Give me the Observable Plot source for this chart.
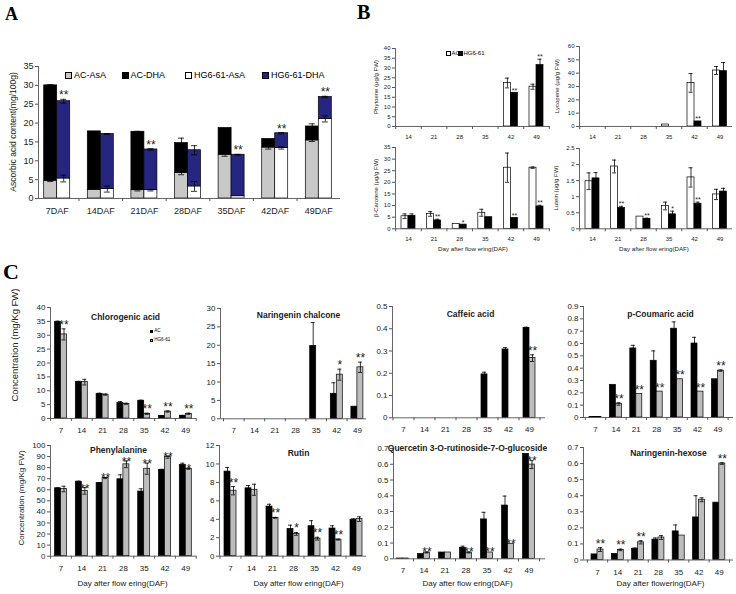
<!DOCTYPE html>
<html><head><meta charset="utf-8">
<script src="https://cdn.jsdelivr.net/npm/d3@7"></script>
<script src="https://cdn.jsdelivr.net/npm/@observablehq/plot@0.6"></script>
<style>
body{margin:0;background:#fff;}
#fig{position:relative;width:736px;height:594px;overflow:hidden;background:#fff;font-family:"Liberation Sans",Arial,sans-serif;color:#000;}
#fig > *{position:absolute;}
.plabel{font-family:"Liberation Serif","Times New Roman",serif;font-weight:bold;line-height:1;}
.leg{display:flex;align-items:center;white-space:nowrap;line-height:1;}
.sw{display:inline-block;border:0.8px solid #000;box-sizing:border-box;}
.vlab{white-space:nowrap;line-height:1;transform:translate(-50%,-50%) rotate(-90deg);color:#222;}
</style></head><body><div id="fig"></div>
<script>
// ---------- Panel A data ----------
const daysA = ["7DAF","14DAF","21DAF","28DAF","35DAF","42DAF","49DAF"];
const acAsA    = [4.7, 2.3, 2.2, 6.8, 11.6, 13.5, 15.4];
const acAsAErr = [0.2, 0, 0.2, 0.5, 0.4, 0.4, 0.3];
const acDHA    = [25.3, 15.5, 15.5, 7.9, 7.1, 2.3, 3.7];
const acTotErr = [0.2, 0, 0.1, 1.3, 0, 0, 0.7];
const hgAsA    = [5.3, 2.5, 2.2, 3.2, 0.6, 13.4, 21.1];
const hgAsAErr = [0.9, 0.8, 0.2, 1.3, 0, 0.3, 0.8];
const hgDHA    = [20.5, 14.6, 10.8, 9.6, 11.0, 3.9, 5.8];
const hgTotErr = [0.5, 0.1, 0.2, 1.2, 0.1, 0.2, 0.2];
const starsA   = ["**","","**","","**","**","**"];

// ---------- Panel B data ----------
const daysB = ["14","21","28","35","42","49"];
const phytoAC = [0,0,0,0,22.3,20.4], phytoACErr = [0,0,0,0,2.5,1.3];
const phytoHG = [0,0,0,0,17.3,31.5], phytoHGErr = [0,0,0,0,0,3];
const phytoStars = ["","","","","**","**"];
const lycoAC = [0,0,0,1.5,32.7,42], lycoACErr = [0,0,0,0,7,3];
const lycoHG = [0,0,0,0,3.8,41.5], lycoHGErr = [0,0,0,0,0,6.5];
const lycoStars = ["","","","","**",""];
const caroAC = [5.4,6.4,2.1,6.9,26.3,26.3], caroACErr = [1,1,0,1.5,6.3,0.3];
const caroHG = [5.6,3.6,1.8,5.0,4.7,9.6], caroHGErr = [0.8,0.5,0,0,0,0.5];
const caroStars = ["","**","*","","**","**"];
const lutAC = [1.48,1.94,0.38,0.71,1.6,1.07], lutACErr = [0.26,0.2,0,0.12,0.3,0.16];
const lutHG = [1.57,0.65,0.31,0.45,0.78,1.16], lutHGErr = [0.18,0.05,0.02,0.1,0.05,0.1];
const lutStars = ["","**","**","*","**",""];

// ---------- Panel C data ----------
const daysC = ["7","14","21","28","35","42","49"];
const chloroAC = [34.8,13.1,8.9,5.6,6.4,0.9,1.0], chloroACErr = [0.3,0.3,0.2,0.5,0.2,0.1,0.1];
const chloroHG = [30.3,13.1,8.6,5.3,1.7,2.5,1.7], chloroHGErr = [2.0,1.0,0.2,0.2,0.2,0.2,0.2];
const chloroStars = ["**","","","","**","**","**"];
const narchAC = [0,0,0,0,19.8,6.8,3.3], narchACErr = [0,0,0,0,6.4,3.0,0];
const narchHG = [0,0,0,0,0,12.0,14.0], narchHGErr = [0,0,0,0,0,1.5,1.4];
const narchStars = ["","","","","","*","**"];
const cafAC = [0,0,0,0,0.195,0.307,0.404], cafACErr = [0,0,0,0,0.01,0.008,0.003];
const cafHG = [0,0,0,0,0,0,0.268], cafHGErr = [0,0,0,0,0,0,0.015];
const cafStars = ["","","","","","","**"];
const coumAC = [0.005,0.265,0.56,0.46,0.72,0.60,0.31], coumACErr = [0,0,0.025,0.08,0.055,0.05,0];
const coumHG = [0.005,0.11,0.19,0.21,0.31,0.21,0.38], coumHGErr = [0,0.01,0,0,0,0,0.005];
const coumStars = ["","**","**","**","**","**","**"];
const pheAC = [61.3,67.3,66,69.5,58.4,78,82.5], pheACErr = [0.5,0.5,0.5,4,2.5,0.5,1.5];
const pheHG = [60.7,59,70.6,83,79,89.5,79], pheHGErr = [2.5,3,0.5,3,5,1,0.5];
const pheStars = ["","**","**","**","**","**","*"];
const rutAC = [9.17,7.36,5.38,2.96,3.25,3.0,3.95], rutACErr = [0.45,0.3,0.25,0.4,0.6,0.3,0.1];
const rutHG = [7.1,7.2,4.16,2.42,1.9,1.8,4.02], rutHGErr = [0.45,0.6,0.05,0.15,0.15,0.05,0.25];
const rutStars = ["**","","**","*","**","**",""];
const querAC = [0.002,0.03,0.04,0.07,0.25,0.338,0.666], querACErr = [0,0,0,0.01,0.045,0.06,0];
const querHG = [0.002,0.04,0.04,0.04,0.04,0.095,0.598], querHGErr = [0,0.003,0,0.003,0,0,0.025];
const querStars = ["","**","","**","**","**","**"];
const nhAC = [0.035,0.038,0.07,0.127,0.178,0.265,0.357], nhACErr = [0,0,0.005,0.01,0.04,0.135,0];
const nhHG = [0.065,0.063,0.11,0.14,0.152,0.375,0.6], nhHGErr = [0.012,0.005,0.01,0.012,0,0.012,0.005];
const nhStars = ["**","**","**","","","","**"];

// ---------- drawing ----------
const fig = document.getElementById("fig");
const FONT = '"Liberation Sans", Arial, sans-serif';

function vlabel(text, cx, cy, fs) {
  const d = document.createElement("div");
  d.className = "vlab";
  d.textContent = text;
  d.style.left = cx + "px"; d.style.top = cy + "px"; d.style.fontSize = fs + "px";
  fig.appendChild(d);
}

function addPlot(p) {
  const n = p.cats.length;
  const W = p.rx - p.ax + p.mL + p.mR;
  const H = p.by - p.ty + p.mT + p.mB;
  const xLo = (p.ax - p.c0) / p.step, xHi = (p.rx - p.c0) / p.step;
  const bw = p.barW / p.step, cw = p.capW / p.step / 2;
  const errs = [];
  const starTop = new Array(n).fill(0);
  const seriesRows = p.series.map(s => s.vals.map((v, i) => {
    const base = s.base ? s.base[i] : 0;
    const x1 = s.slot === 0 ? i - bw : i;
    const x2 = x1 + bw;
    const e = s.errs ? s.errs[i] : 0;
    const xc = (x1 + x2) / 2;
    if (e > 0) errs.push({xc, xa: xc - cw, xb: xc + cw, lo: Math.max(0, base + v - e), hi: base + v + e});
    if (s.slot === 1) starTop[i] = Math.max(starTop[i], base + v + e);
    return {x1, x2, y1: base, y2: base + v};
  }));
  const starRows = p.stars.map((t, i) => ({t, x: i + bw / 2, y: starTop[i]})).filter(d => d.t);
  const yTicks = d3.range(0, p.yMax + p.yStep / 2, p.yStep).map(v => +v.toFixed(3));
  const bounds = d3.range(n + 1).map(i => i - 0.5).filter(v => v >= xLo - 1e-6 && v <= xHi + 1e-6);
  const marks = [];
  p.series.forEach((s, k) => marks.push(Plot.rect(seriesRows[k], {x1: "x1", x2: "x2", y1: "y1", y2: "y2", fill: s.fill, stroke: "#000", strokeWidth: 0.7})));
  marks.push(Plot.ruleX(errs, {x: "xc", y1: "lo", y2: "hi", stroke: "#000", strokeWidth: 0.8}));
  marks.push(Plot.ruleY(errs, {y: "hi", x1: "xa", x2: "xb", stroke: "#000", strokeWidth: 0.8}));
  marks.push(Plot.ruleY(errs, {y: "lo", x1: "xa", x2: "xb", stroke: "#000", strokeWidth: 0.8}));
  marks.push(Plot.ruleY([0], {stroke: "#555", strokeWidth: 0.9}));
  marks.push(Plot.ruleX([xLo], {stroke: "#555", strokeWidth: 0.9}));
  marks.push(Plot.axisY({ticks: yTicks, tickSize: 3, tickPadding: 2, tickFormat: d => String(d), label: null, fontSize: p.fs, stroke: "#555"}));
  marks.push(Plot.axisX({ticks: d3.range(n), tickSize: 0, tickPadding: p.xPad, tickFormat: i => p.cats[i], label: null, fontSize: p.fs}));
  marks.push(Plot.axisX({ticks: bounds, tickSize: 3, tickFormat: () => "", label: null, stroke: "#555"}));
  marks.push(Plot.text(starRows, {x: "x", y: "y", text: "t", lineAnchor: "bottom", dy: p.starDy || 0, fontSize: p.starFs}));
  if (p.title) marks.push(Plot.text([p.title], {text: d => d, frameAnchor: "top", dx: p.tDx || 0, dy: p.tDy || 0, fontWeight: "bold", fontSize: p.tFs}));
  if (p.xlabel) marks.push(Plot.text([p.xlabel], {text: d => d, frameAnchor: "bottom", dx: p.xlDx || 0, dy: p.xlDy, fontSize: p.xlFs}));
  const svg = Plot.plot({
    width: W, height: H,
    marginLeft: p.mL, marginRight: p.mR, marginTop: p.mT, marginBottom: p.mB,
    x: {type: "linear", domain: [xLo, xHi]},
    y: {type: "linear", domain: [0, p.yMax]},
    style: {fontFamily: FONT, fontSize: p.fs + "px", color: "#222", background: "transparent", overflow: "visible"},
    marks
  });
  svg.style.position = "absolute";
  svg.style.left = (p.ax - p.mL) + "px";
  svg.style.top = (p.ty - p.mT) + "px";
  svg.style.maxWidth = "none";
  fig.appendChild(svg);
  if (p.ylabel) vlabel(p.ylabel, p.ylX, p.ylY, p.ylFs);
}

// Panel A
addPlot({cats: daysA, ax: 38, rx: 340, ty: 66, by: 198, c0: 56.7, step: 43.6, barW: 13, capW: 6,
  mL: 38, mR: 8, mT: 20, mB: 24, yMax: 35, yStep: 5, fs: 9, xPad: 9.5, starFs: 12,
  series: [
    {slot: 0, vals: acAsA, errs: acAsAErr, fill: "#c8c8c8"},
    {slot: 0, base: acAsA, vals: acDHA, errs: acTotErr, fill: "#000"},
    {slot: 1, vals: hgAsA, errs: hgAsAErr, fill: "#fff"},
    {slot: 1, base: hgAsA, vals: hgDHA, errs: hgTotErr, fill: "#262680"}],
  stars: starsA, ylabel: "Ascorbic acid content(mg/100g)", ylX: 13, ylY: 132, ylFs: 8.5});

// Panel B
const bBase = {cats: daysB, barW: 7, capW: 4, mR: 3, mT: 6, mB: 30, fs: 6, xPad: 7.8, starFs: 7, ylFs: 6, xlFs: 6.2};
function bPanel(o) {
  addPlot(Object.assign({}, bBase, o, {series: [
    {slot: 0, vals: o.ac, errs: o.acE, fill: "#fff"},
    {slot: 1, vals: o.hg, errs: o.hgE, fill: "#000"}]}));
}
bPanel({ax: 395, rx: 550, ty: 48, by: 126, c0: 408, step: 25.6, mL: 28, yMax: 40, yStep: 5,
  ac: phytoAC, acE: phytoACErr, hg: phytoHG, hgE: phytoHGErr, stars: phytoStars,
  ylabel: "Phytoene (μg/g FW)", ylX: 376, ylY: 87});
bPanel({ax: 579, rx: 732, ty: 46, by: 126, c0: 592, step: 25.5, mL: 28, yMax: 60, yStep: 10,
  ac: lycoAC, acE: lycoACErr, hg: lycoHG, hgE: lycoHGErr, stars: lycoStars,
  ylabel: "Lycopene (μg/g FW)", ylX: 557, ylY: 86});
bPanel({ax: 395, rx: 550, ty: 147, by: 228.3, c0: 408, step: 25.6, mL: 28, yMax: 35, yStep: 5,
  ac: caroAC, acE: caroACErr, hg: caroHG, hgE: caroHGErr, stars: caroStars,
  ylabel: "β-Carotene (μg/g FW)", ylX: 376, ylY: 188,
  xlabel: "Day after flow ering(DAF)", xlDy: 22, xlDx: 0});
bPanel({ax: 579, rx: 732, ty: 148, by: 228.3, c0: 592, step: 25.5, mL: 28, yMax: 2.5, yStep: 0.5,
  ac: lutAC, acE: lutACErr, hg: lutHG, hgE: lutHGErr, stars: lutStars,
  ylabel: "Lutein (μg/g FW)", ylX: 556, ylY: 188,
  xlabel: "Day after flow ering(DAF)", xlDy: 22, xlDx: -2});

// Panel C
const cBase = {cats: daysC, barW: 6, capW: 4, mR: 4, mT: 14, fs: 8, xPad: 9, starFs: 12, tFs: 8.5, ylFs: 8, xlFs: 8};
function cPanel(o) {
  addPlot(Object.assign({}, cBase, o, {series: [
    {slot: 0, vals: o.ac, errs: o.acE, fill: "#000"},
    {slot: 1, vals: o.hg, errs: o.hgE, fill: "#bdbdbd"}]}));
}
const concLabel = "Concentration (mg/Kg FW)";
cPanel({ax: 50, rx: 196, ty: 307, by: 418, c0: 60.5, step: 20.8, mL: 50, mB: 20, yMax: 40, yStep: 5,
  ac: chloroAC, acE: chloroACErr, hg: chloroHG, hgE: chloroHGErr, stars: chloroStars,
  title: "Chlorogenic acid", tDx: 2, tDy: 6, ylabel: concLabel, ylX: 15, ylY: 345, ylFs: 9.5});
cPanel({ax: 220, rx: 366, ty: 308, by: 418.3, c0: 233.3, step: 20.6, mL: 30, mB: 20, yMax: 30, yStep: 5,
  ac: narchAC, acE: narchACErr, hg: narchHG, hgE: narchHGErr, stars: narchStars,
  title: "Naringenin chalcone", tDx: 5, tDy: 3});
cPanel({ax: 392, rx: 545, ty: 306, by: 417.3, c0: 403, step: 21, mL: 30, mB: 20, yMax: 0.5, yStep: 0.1,
  ac: cafAC, acE: cafACErr, hg: cafHG, hgE: cafHGErr, stars: cafStars,
  title: "Caffeic acid", tDx: 1.5, tDy: 4});
cPanel({ax: 583, rx: 733, ty: 306, by: 417, c0: 595, step: 20.4, mL: 30, mB: 20, yMax: 0.9, yStep: 0.1,
  ac: coumAC, acE: coumACErr, hg: coumHG, hgE: coumHGErr, stars: coumStars,
  title: "p-Coumaric acid", tDx: 2, tDy: 4});
cPanel({ax: 50, rx: 196, ty: 445, by: 555.7, c0: 60.5, step: 20.8, mL: 50, mB: 36, yMax: 100, yStep: 10,
  ac: pheAC, acE: pheACErr, hg: pheHG, hgE: pheHGErr, stars: pheStars, starDy: 5,
  title: "Phenylalanine", tDx: -5, tDy: 1.5, ylabel: concLabel, ylX: 22, ylY: 498, ylFs: 8,
  xlabel: "Day after flow ering(DAF)", xlDy: 30, xlDx: -1});
cPanel({ax: 219, rx: 366, ty: 445, by: 555.7, c0: 230, step: 21, mL: 30, mB: 36, yMax: 12, yStep: 2,
  ac: rutAC, acE: rutACErr, hg: rutHG, hgE: rutHGErr, stars: rutStars,
  title: "Rutin", tDx: 5.5, tDy: 4, xlabel: "Day after flow ering(DAF)", xlDy: 30, xlDx: 5.5});
cPanel({ax: 393, rx: 545, ty: 448, by: 558.3, c0: 402.5, step: 21, mL: 30, mB: 36, yMax: 0.7, yStep: 0.1,
  ac: querAC, acE: querACErr, hg: querHG, hgE: querHGErr, stars: querStars, starDy: 4,
  title: "Quercetin 3-O-rutinoside-7-O-glucoside", tDx: -2, tDy: -4, xlabel: "Day after flow ering(DAF)", xlDy: 27, xlDx: -2});
cPanel({ax: 583, rx: 733, ty: 447, by: 559.5, c0: 597, step: 20.3, mL: 30, mB: 36, yMax: 0.7, yStep: 0.1,
  ac: nhAC, acE: nhACErr, hg: nhHG, hgE: nhHGErr, stars: nhStars,
  title: "Naringenin-hexose", tDx: 10, tDy: 2, xlabel: "Day after flowering(DAF)", xlDy: 25.5, xlDx: 2});

// ---------- legends & panel letters ----------
function legendItem(text, fill, x, y, fs, sw, gap) {
  const d = document.createElement("div");
  d.className = "leg";
  d.style.left = x + "px";
  d.style.top = (y - fs / 2) + "px";
  d.style.height = fs + "px";
  d.style.fontSize = fs + "px";
  const s = document.createElement("span");
  s.className = "sw";
  s.style.width = sw + "px"; s.style.height = sw + "px"; s.style.background = fill;
  s.style.marginRight = gap + "px";
  d.appendChild(s);
  d.appendChild(document.createTextNode(text));
  fig.appendChild(d);
}
const legA = [["AC-AsA", "#c8c8c8", 65], ["AC-DHA", "#000", 121.5], ["HG6-61-AsA", "#fff", 185], ["HG6-61-DHA", "#262680", 262]];
legA.forEach(([t, f, x]) => legendItem(t, f, x, 75, 9, 7, 2));
legendItem("AC", "#fff", 446, 53.3, 6, 4.5, 1);
legendItem("HG6-61", "#000", 458, 53.3, 6, 4.5, 1);
legendItem("AC", "#000", 150, 331.7, 4.6, 3.2, 1);
legendItem("HG6-61", "#bdbdbd", 150, 340.3, 4.6, 3.2, 1);

function letter(t, x, y, fs) {
  const d = document.createElement("div");
  d.className = "plabel";
  d.textContent = t;
  d.style.left = x + "px"; d.style.top = y + "px"; d.style.fontSize = fs + "px";
  fig.appendChild(d);
}
letter("A", 5, 5, 18);
letter("B", 357, 1.5, 20);
letter("C", 3, 261, 22);
</script>
</body></html>
